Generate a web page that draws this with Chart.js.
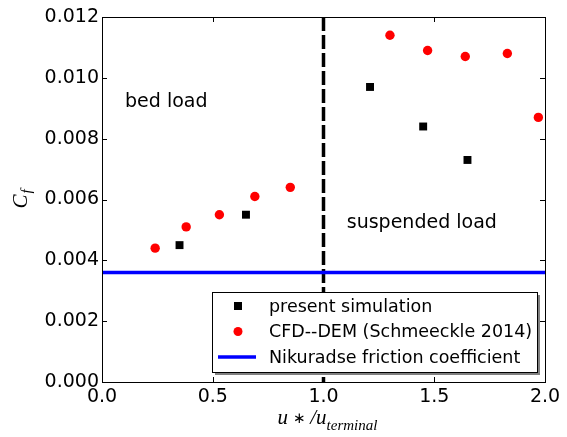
<!DOCTYPE html>
<html>
<head>
<meta charset="utf-8">
<script src="https://cdn.jsdelivr.net/npm/chart.js@4/dist/chart.umd.min.js"></script>
<style>
	html, body { margin: 0; padding: 0; background: #fff; }
</style>
</head>
<body>
<canvas id="myChart" width="567" height="437"></canvas>
<script>
// data
const simX = [0.35, 0.65, 1.21, 1.45, 1.65];
const simY = [0.0045, 0.0055, 0.0097, 0.0084, 0.0073];
const cfdX = [0.24, 0.38, 0.53, 0.69, 0.85, 1.30, 1.47, 1.64, 1.83, 1.97];
const cfdY = [0.0044, 0.0051, 0.0055, 0.0061, 0.0064, 0.0114, 0.0109, 0.0107, 0.0108, 0.0087];
const nikuradseCf = 0.0036;
const transitionX = 1.0;
const xTicks = [0, 0.5, 1.0, 1.5, 2.0];
const yTicks = [0, 0.002, 0.004, 0.006, 0.008, 0.010, 0.012];
const seriesLabels = ["present simulation", "CFD--DEM (Schmeeckle 2014)", "Nikuradse friction coefficient"];
const regionLabels = ["bed load", "suspended load"];

const FONT = "'DejaVu Sans', sans-serif";
const MATH = "'Liberation Serif', serif";

// frame, inward ticks, region text, axis titles, legend
const decorPlugin = {
	id: "decor",
	afterDatasetsDraw(chart) {
		const { ctx, chartArea: a, scales } = chart;
		const xs = scales.x, ys = scales.y;
		ctx.save();
		ctx.strokeStyle = "#000";
		ctx.lineWidth = 1;
		ctx.beginPath();
		xTicks.forEach((v) => {
			const px = Math.round(xs.getPixelForValue(v)) + 0.5;
			ctx.moveTo(px, a.bottom); ctx.lineTo(px, a.bottom - 5);
			ctx.moveTo(px, a.top); ctx.lineTo(px, a.top + 5);
		});
		yTicks.forEach((v) => {
			const py = Math.round(ys.getPixelForValue(v)) + 0.5;
			ctx.moveTo(a.left, py); ctx.lineTo(a.left + 5, py);
			ctx.moveTo(a.right, py); ctx.lineTo(a.right - 5, py);
		});
		ctx.stroke();
		ctx.strokeRect(Math.round(a.left) + 0.5, Math.round(a.top) + 0.5, Math.round(a.right - a.left), Math.round(a.bottom - a.top));

		// region text
		ctx.fillStyle = "#000";
		ctx.font = "19px " + FONT;
		ctx.textBaseline = "middle";
		ctx.textAlign = "left";
		ctx.fillText(regionLabels[0], xs.getPixelForValue(0.104), ys.getPixelForValue(0.0092));
		ctx.fillText(regionLabels[1], xs.getPixelForValue(1.105), ys.getPixelForValue(0.00523));

		// y title C_f
		ctx.save();
		ctx.translate(21, (a.top + a.bottom) / 2);
		ctx.rotate(-Math.PI / 2);
		ctx.textBaseline = "alphabetic";
		ctx.font = "italic 21px " + MATH;
		const wC = ctx.measureText("C").width;
		ctx.font = "italic 15px " + MATH;
		const wf = ctx.measureText("f").width;
		let x0 = -(wC + wf) / 2;
		ctx.font = "italic 21px " + MATH;
		ctx.fillText("C", x0, 6);
		ctx.font = "italic 15px " + MATH;
		ctx.fillText("f", x0 + wC + 1, 10);
		ctx.restore();

		// x title u*/u_terminal
		const parts = [
			{ t: "u", f: "italic 21px " + MATH, dy: 0 },
			{ t: " \u2217 ", f: "15px " + FONT, dy: -1 },
			{ t: "/u", f: "italic 21px " + MATH, dy: 0 },
			{ t: "terminal", f: "italic 15px " + MATH, dy: 6 },
		];
		let tw = 0;
		parts.forEach((p) => { ctx.font = p.f; p.w = ctx.measureText(p.t).width; tw += p.w; });
		let cx = (a.left + a.right) / 2 - tw / 2 + 4;
		ctx.textBaseline = "alphabetic";
		parts.forEach((p) => { ctx.font = p.f; ctx.fillText(p.t, cx, 424 + p.dy); cx += p.w; });

		// legend
		const lx = a.right - 333, ly = a.bottom - 90, lw = 325, lh = 80;
		ctx.fillStyle = "#808080";
		ctx.fillRect(lx + 3, ly + 3, lw, lh);
		ctx.fillStyle = "#fff";
		ctx.fillRect(lx, ly, lw, lh);
		ctx.strokeStyle = "#000";
		ctx.lineWidth = 1;
		ctx.strokeRect(lx + 0.5, ly + 0.5, lw, lh);
		const rows = chart.data.datasets.filter((d) => d.label);
		rows.forEach((d, i) => {
			const ry = ly + 14 + i * 25.5;
			const mx = lx + 26;
			if (d.showLine) {
				ctx.strokeStyle = d.borderColor;
				ctx.lineWidth = d.borderWidth;
				ctx.beginPath();
				ctx.moveTo(lx + 6, ry); ctx.lineTo(lx + 44, ry);
				ctx.stroke();
			} else if (d.pointStyle === "rect") {
				ctx.fillStyle = d.backgroundColor;
				ctx.fillRect(mx - 4, ry - 4, 8, 8);
			} else {
				ctx.fillStyle = d.backgroundColor;
				ctx.beginPath();
				ctx.arc(mx, ry, 4.5, 0, Math.PI * 2);
				ctx.fill();
			}
			ctx.fillStyle = "#000";
			ctx.font = "17.5px " + FONT;
			ctx.textBaseline = "middle";
			ctx.fillText(d.label, lx + 57, ry + 1);
		});
		ctx.restore();
	},
};

const ctx = document.getElementById("myChart");

new Chart(ctx, {
	type: "scatter",
	data: {
		datasets: [
			{
				label: seriesLabels[0],
				data: simX.map((x, i) => ({ x: x, y: simY[i] })),
				pointStyle: "rect",
				pointRadius: 5.6,
				borderWidth: 0,
				backgroundColor: "#000",
				borderColor: "#000",
				order: 1,
			},
			{
				label: seriesLabels[1],
				data: cfdX.map((x, i) => ({ x: x, y: cfdY[i] })),
				pointStyle: "circle",
				pointRadius: 4.7,
				borderWidth: 0,
				backgroundColor: "#ff0000",
				borderColor: "#ff0000",
				order: 0,
			},
			{
				label: seriesLabels[2],
				data: [{ x: xTicks[0], y: nikuradseCf }, { x: xTicks[xTicks.length - 1], y: nikuradseCf }],
				showLine: true,
				pointRadius: 0,
				borderWidth: 3.5,
				borderColor: "#0000ff",
				backgroundColor: "#0000ff",
				order: 2,
			},
			{
				data: [{ x: transitionX, y: yTicks[yTicks.length - 1] }, { x: transitionX, y: yTicks[0] }],
				showLine: true,
				pointRadius: 0,
				borderWidth: 3.5,
				borderDash: [14, 4],
				borderColor: "#000",
				order: 3,
			},
		],
	},
	options: {
		responsive: false,
		animation: false,
		devicePixelRatio: 1,
		layout: { padding: { top: 17, right: 22, left: 0, bottom: 0 } },
		plugins: { legend: { display: false }, tooltip: { enabled: false } },
		scales: {
			x: {
				type: "linear",
				min: 0,
				max: 2,
				afterBuildTicks: (s) => { s.ticks = xTicks.map((v) => ({ value: v })); },
				afterFit: (s) => { s.height = 55; },
				ticks: {
					callback: (v) => v.toFixed(1),
					font: { family: FONT, size: 19 },
					color: "#000",
					padding: 4,
					maxRotation: 0,
				},
				grid: { drawOnChartArea: false, drawTicks: false },
				border: { display: false },
			},
			y: {
				min: 0,
				max: 0.012,
				afterBuildTicks: (s) => { s.ticks = yTicks.map((v) => ({ value: v })); },
				afterFit: (s) => { s.width = 102; },
				ticks: {
					callback: (v) => v.toFixed(3),
					font: { family: FONT, size: 19 },
					color: "#000",
					padding: 3,
				},
				grid: { drawOnChartArea: false, drawTicks: false },
				border: { display: false },
			},
		},
	},
	plugins: [decorPlugin],
});
</script>
</body>
</html>
